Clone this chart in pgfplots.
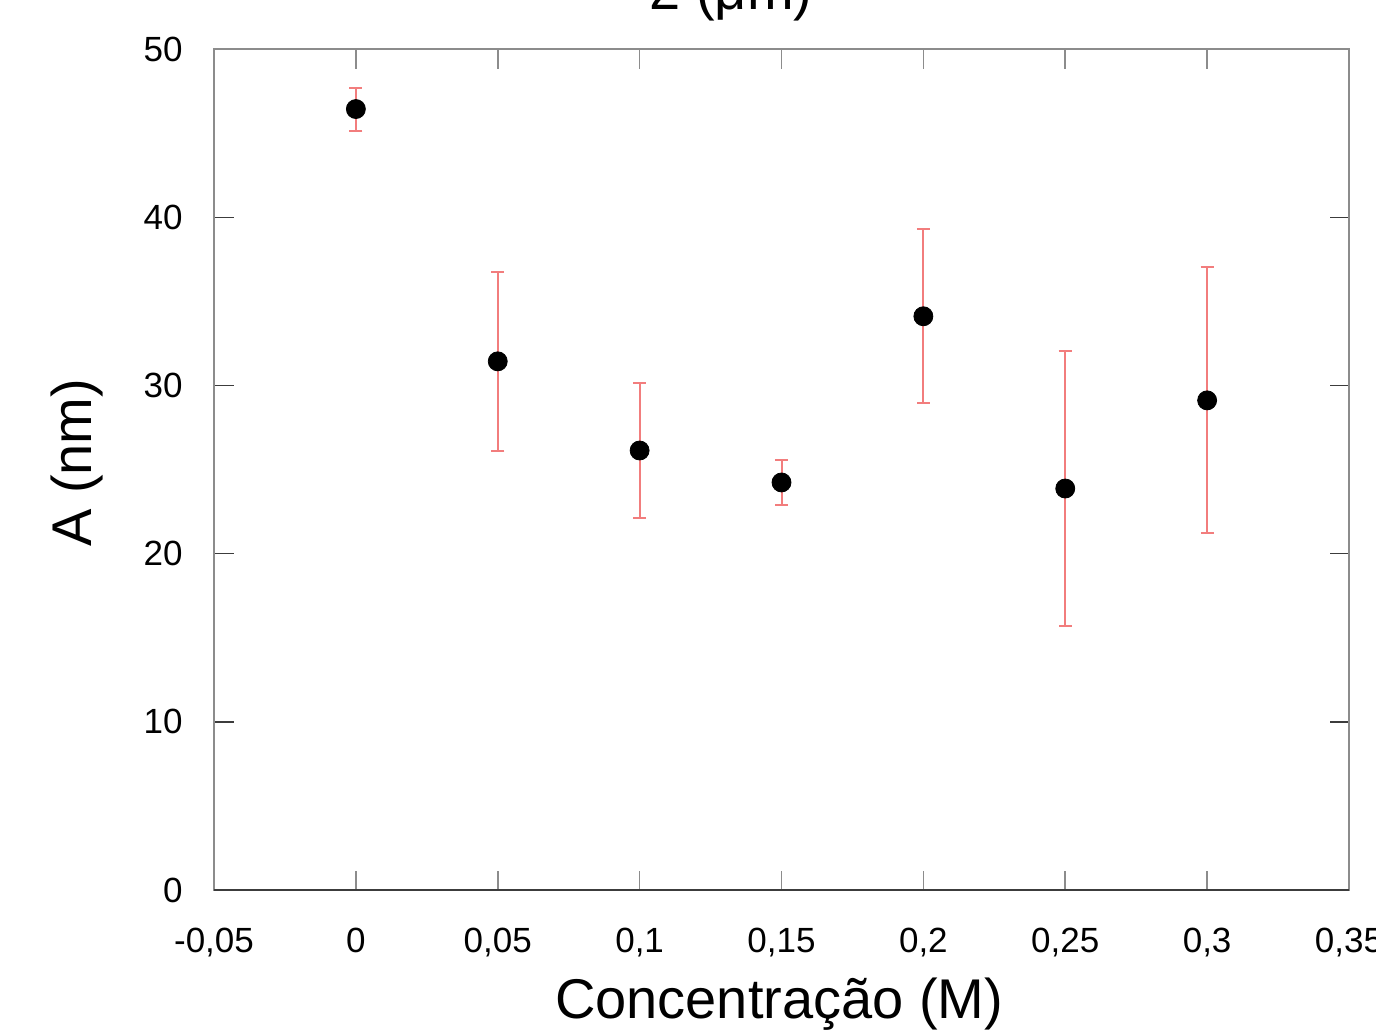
\documentclass[border=0pt]{standalone}
\usepackage{fontspec}
\setmainfont{Liberation Sans}
\usepackage{pgfplots}
\pgfplotsset{compat=1.18}
\definecolor{errred}{RGB}{242,125,125}
\definecolor{axgray}{RGB}{140,140,140}
\definecolor{axdark}{RGB}{60,60,60}
\begin{document}
\begin{tikzpicture}
\useasboundingbox (-107pt,-69.5pt) rectangle (581pt,445pt);
\begin{axis}[
  scale only axis,
  width=567.5pt, height=420.5pt,
  xmin=-0.05, xmax=0.35, ymin=0, ymax=50,
  axis line style={axgray, line width=0.8pt},
  tick align=inside,
  major tick length=9.75pt,
  xtick={-0.05,0,0.05,0.1,0.15,0.2,0.25,0.3,0.35},
  xticklabels={{-0,05},{0},{0,05},{0,1},{0,15},{0,2},{0,25},{0,3},{0,35}},
  ytick={0,10,20,30,40,50},
  yticklabels={0,10,20,30,40,50},
  xtick style={axgray, line width=0.8pt},
  ytick style={axdark, line width=0.7pt},
  xticklabel style={font=\fontsize{17.5}{21}\selectfont, anchor=north, inner sep=0pt, yshift=-19pt},
  yticklabel style={font=\fontsize{17.5}{21}\selectfont, anchor=east, inner sep=0pt, xshift=-15.5pt},
  xlabel={Concentração (M)},
  ylabel={A (nm)},
  xlabel style={font=\fontsize{28}{32}\selectfont, at={(axis description cs:0.498,-0.153)}, anchor=base, inner sep=0pt},
  ylabel style={font=\fontsize{28}{32}\selectfont, at={(axis description cs:-0.1207,0.508)}, anchor=center, inner sep=0pt},
  clip=false,
]
\addplot[
  only marks, mark=*, mark size=4.75pt, black,
  error bars/.cd,
    y dir=both, y explicit,
    error bar style={errred, line width=1pt},
    error mark options={rotate=90, errred, mark size=3.3pt, line width=1pt},
] coordinates {
  (0,46.43) +- (0,1.28)
  (0.05,31.43) +- (0,5.33)
  (0.1,26.13) +- (0,4.0)
  (0.15,24.23) +- (0,1.32)
  (0.2,34.11) +- (0,5.17)
  (0.25,23.87) +- (0,8.15)
  (0.3,29.11) +- (0,7.9)
};
\draw[axdark, line width=0.8pt] (rel axis cs:0,0) -- (rel axis cs:1,0);
\node[anchor=base, inner sep=0pt, font=\fontsize{28}{32}\selectfont] at (axis description cs:0.4555,1.0464) {2 (μm)};
\end{axis}
\end{tikzpicture}
\end{document}
